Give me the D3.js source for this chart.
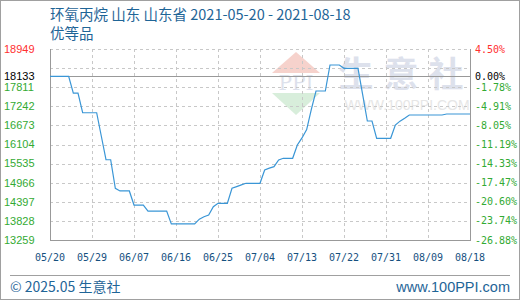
<!DOCTYPE html>
<html>
<head>
<meta charset="utf-8">
<script src="https://cdn.jsdelivr.net/npm/d3@7"></script>
<style>
  body { margin: 0; background: #fff; }
  svg { display: block; }
</style>
</head>
<body>
<svg id="chart" width="520" height="300"></svg>
<script>
// price series (only the days where the line changes direction)
var dates = ["2021-05-20","2021-05-24","2021-05-25","2021-05-26","2021-05-27","2021-05-30","2021-05-31",
  "2021-06-01","2021-06-02","2021-06-03","2021-06-04","2021-06-06","2021-06-07","2021-06-09","2021-06-10",
  "2021-06-14","2021-06-15","2021-06-20","2021-06-21","2021-06-22","2021-06-23","2021-06-24","2021-06-25",
  "2021-06-27","2021-06-28","2021-06-29","2021-06-30","2021-07-01","2021-07-04","2021-07-05","2021-07-06",
  "2021-07-07","2021-07-08","2021-07-09","2021-07-11","2021-07-12","2021-07-13","2021-07-14","2021-07-15",
  "2021-07-16","2021-07-18","2021-07-19","2021-07-21","2021-07-22","2021-07-25","2021-07-26","2021-07-27",
  "2021-07-28","2021-07-29","2021-08-01","2021-08-02","2021-08-03","2021-08-04","2021-08-05","2021-08-12",
  "2021-08-13","2021-08-18"];
var prices = [18133,18133,17633,17633,17050,17050,16350,
  15650,15650,14800,14720,14720,14300,14300,14120,
  14120,13740,13740,13880,13950,14000,14250,14352,
  14352,14800,14850,14900,14948,14948,15344,15400,
  15443,15642,15693,15693,16089,16300,16550,17150,
  17698,17698,18472,18472,18374,18374,17590,16804,
  16804,16289,16289,16685,16800,16884,16983,16983,
  17013,17013];

var basePrice = 18133;
var yTicks = [13259,13828,14397,14966,15535,16104,16673,17242,17811,18380,18949];
var yLabelTicks = [13259,13828,14397,14966,15535,16104,16673,17242,17811,18949];
var xTickLabels = ["05/20","05/29","06/07","06/16","06/25","07/04","07/13","07/22","07/31","08/09","08/18"];

var titleText = "环氧丙烷 山东 山东省 2021-05-20 - 2021-08-18";
var subTitle = "优等品";

var svg = d3.select("#chart");
var parse = d3.timeParse("%Y-%m-%d");
var data = dates.map(function(d, i){ return {date: parse(d), value: prices[i]}; });

var plotLeft = 50, plotRight = 470, plotTop = 49, plotBottom = 240;

var x = d3.scaleTime()
    .domain([parse("2021-05-20"), parse("2021-08-18")])
    .range([plotLeft, plotRight]);
var y = d3.scaleLinear()
    .domain([13259, 18949])
    .range([plotBottom, plotTop]);

var xTickDates = xTickLabels.map(function(t){ return parse("2021-" + t.replace("/", "-")); });

// outer frame
svg.append("rect")
    .attr("x", 0.5).attr("y", 0.5)
    .attr("width", 519).attr("height", 299)
    .attr("fill", "none").attr("stroke", "#a0a0a0");

// watermark
var wm = svg.append("g").attr("class", "watermark");
wm.append("polygon")
    .attr("points", "272,73 320,73 296,52")
    .attr("fill", "#f6d2cc");
wm.append("text")
    .attr("x", 296).attr("y", 90)
    .attr("text-anchor", "middle")
    .attr("font-family", "'DejaVu Serif', serif")
    .attr("font-size", 20)
    .attr("fill", "#dde1ec")
    .text("PPI");
wm.append("polygon")
    .attr("points", "272,93 320,93 296,115")
    .attr("fill", "#d8eedb");
wm.append("text")
    .attr("x", 406).attr("y", 87)
    .attr("text-anchor", "middle")
    .attr("font-family", "'Noto Sans CJK SC', sans-serif")
    .attr("font-size", 35)
    .attr("font-weight", "bold")
    .attr("letter-spacing", 10)
    .attr("fill", "#dde1ec")
    .text("生意社");
wm.append("text")
    .attr("x", 407).attr("y", 110)
    .attr("text-anchor", "middle")
    .attr("font-family", "'Liberation Sans', Arial, sans-serif")
    .attr("font-size", 14)
    .attr("fill", "#e6e6e6")
    .text("WWW.100PPI.COM");

// grid
var grid = svg.append("g").attr("class", "grid");
grid.selectAll(".hgrid")
    .data(yTicks).enter()
    .append("line")
    .attr("class", "hgrid")
    .attr("x1", plotLeft).attr("x2", plotRight)
    .attr("y1", function(d){ return Math.round(y(d)) + 0.5; })
    .attr("y2", function(d){ return Math.round(y(d)) + 0.5; })
    .attr("stroke", "#c8c8c8")
    .attr("stroke-dasharray", "3,3");
grid.selectAll(".vgrid")
    .data(xTickDates.slice(1, -1)).enter()
    .append("line")
    .attr("class", "vgrid")
    .attr("x1", function(d){ return Math.round(x(d)) + 0.5; })
    .attr("x2", function(d){ return Math.round(x(d)) + 0.5; })
    .attr("y1", plotTop).attr("y2", plotBottom)
    .attr("stroke", "#c8c8c8")
    .attr("stroke-dasharray", "3,3");

// frame lines
svg.append("line")
    .attr("x1", plotLeft + 0.5).attr("x2", plotLeft + 0.5)
    .attr("y1", plotTop).attr("y2", plotBottom + 1)
    .attr("stroke", "#999");
svg.append("line")
    .attr("x1", plotRight + 0.5).attr("x2", plotRight + 0.5)
    .attr("y1", plotTop).attr("y2", plotBottom + 1)
    .attr("stroke", "#999");
svg.append("line")
    .attr("x1", plotLeft).attr("x2", plotRight + 1)
    .attr("y1", plotBottom + 0.5).attr("y2", plotBottom + 0.5)
    .attr("stroke", "#999");
// base price line
svg.append("line")
    .attr("x1", plotLeft).attr("x2", plotRight)
    .attr("y1", Math.round(y(basePrice)) + 0.5).attr("y2", Math.round(y(basePrice)) + 0.5)
    .attr("stroke", "#999");

// left axis labels
function labelColor(v){
    if (v > basePrice) return "#ff3030";
    if (v === basePrice) return "#000";
    return "#33aa33";
}
var yLabels = yLabelTicks.concat([basePrice]);
svg.append("g").selectAll("text")
    .data(yLabels).enter()
    .append("text")
    .attr("x", 4)
    .attr("y", function(d){ return y(d); })
    .attr("dy", "0.35em")
    .attr("font-family", "'Liberation Sans', Arial, sans-serif")
    .attr("font-size", 11)
    .attr("fill", labelColor)
    .text(function(d){ return d; });

// right axis labels (change vs base price)
svg.append("g").selectAll("text")
    .data(yLabels).enter()
    .append("text")
    .attr("x", 475)
    .attr("y", function(d){ return y(d); })
    .attr("dy", "0.35em")
    .attr("font-family", "'DejaVu Sans Mono', monospace")
    .attr("font-size", 10)
    .attr("fill", labelColor)
    .text(function(d){ return ((d - basePrice) / basePrice * 100).toFixed(2) + "%"; });

// x axis labels
svg.append("g").selectAll("text")
    .data(xTickDates).enter()
    .append("text")
    .attr("x", function(d){ return x(d); })
    .attr("y", 257)
    .attr("dy", "0.35em")
    .attr("text-anchor", "middle")
    .attr("font-family", "'DejaVu Sans Mono', monospace")
    .attr("font-size", 10)
    .attr("fill", "#15507f")
    .text(function(d, i){ return xTickLabels[i]; });

// price line
var line = d3.line()
    .x(function(d){ return x(d.date); })
    .y(function(d){ return y(d.value); });
svg.append("path")
    .datum(data)
    .attr("d", line)
    .attr("fill", "none")
    .attr("stroke", "#3a96d6")
    .attr("stroke-width", 1.2);

// titles
svg.append("text")
    .attr("x", 50).attr("y", 20)
    .attr("font-family", "'Noto Sans CJK SC', sans-serif")
    .attr("font-size", 14.5)
    .attr("fill", "#1f6597")
    .text(titleText);
svg.append("text")
    .attr("x", 50).attr("y", 39)
    .attr("font-family", "'Noto Sans CJK SC', sans-serif")
    .attr("font-size", 14.5)
    .attr("fill", "#1f6597")
    .text(subTitle);

// footer
svg.append("line")
    .attr("x1", 10).attr("x2", 510)
    .attr("y1", 275.5).attr("y2", 275.5)
    .attr("stroke", "#a0a0a0");
svg.append("text")
    .attr("x", 10).attr("y", 292)
    .attr("font-family", "'Noto Sans CJK SC', sans-serif")
    .attr("font-size", 14)
    .attr("fill", "#1f6597")
    .text("© 2025.05 生意社");
svg.append("text")
    .attr("x", 510).attr("y", 292)
    .attr("text-anchor", "end")
    .attr("font-family", "'Liberation Sans', Arial, sans-serif")
    .attr("font-size", 14.5)
    .attr("fill", "#1f6597")
    .text("www.100PPI.com");
</script>
</body>
</html>
